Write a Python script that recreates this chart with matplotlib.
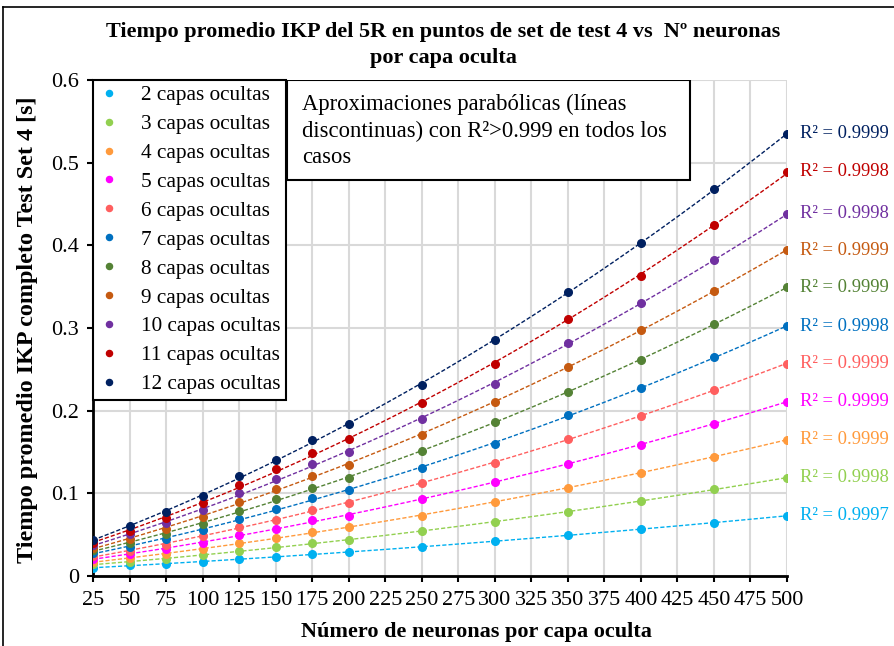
import numpy as np
import matplotlib
matplotlib.use("Agg")
import matplotlib.pyplot as plt
from matplotlib.lines import Line2D
from matplotlib.patches import Rectangle

plt.rcParams['font.family'] = ['Liberation Serif', 'DejaVu Serif']

# neuronas por capa oculta (eje x)
neuronas = [25, 50, 75, 100, 125, 150, 175, 200, 250, 300, 350, 400, 450, 500]
x_ticks = list(range(25, 525, 25))

capas = [2, 3, 4, 5, 6, 7, 8, 9, 10, 11, 12]

# tiempo promedio [s] para cada numero de capas ocultas
t_2 = [0.010, 0.013, 0.0145, 0.017, 0.020, 0.023, 0.0266, 0.0294, 0.0355, 0.042, 0.049, 0.0565, 0.0645, 0.073]
t_3 = [0.014, 0.017, 0.0206, 0.025, 0.0303, 0.0355, 0.040, 0.0432, 0.0545, 0.065, 0.078, 0.0904, 0.105, 0.119]
t_4 = [0.017, 0.0214, 0.0266, 0.0327, 0.040, 0.0464, 0.0529, 0.059, 0.0726, 0.090, 0.107, 0.1247, 0.1443, 0.165]
t_5 = [0.021, 0.0263, 0.0327, 0.0404, 0.0496, 0.0569, 0.0674, 0.073, 0.093, 0.1134, 0.136, 0.159, 0.184, 0.211]
t_6 = [0.024, 0.0306, 0.0379, 0.0484, 0.059, 0.0682, 0.080, 0.088, 0.113, 0.1368, 0.166, 0.1937, 0.225, 0.257]
t_7 = [0.028, 0.0355, 0.0448, 0.0557, 0.0686, 0.081, 0.094, 0.104, 0.1304, 0.160, 0.195, 0.227, 0.265, 0.302]
t_8 = [0.031, 0.040, 0.0513, 0.063, 0.0787, 0.0929, 0.1065, 0.118, 0.151, 0.186, 0.223, 0.2615, 0.305, 0.349]
t_9 = [0.034, 0.0452, 0.0573, 0.071, 0.090, 0.105, 0.121, 0.1344, 0.171, 0.210, 0.2534, 0.2978, 0.345, 0.394]
t_10 = [0.037, 0.0505, 0.0638, 0.080, 0.1005, 0.117, 0.135, 0.150, 0.190, 0.2325, 0.2817, 0.330, 0.3817, 0.438]
t_11 = [0.040, 0.0549, 0.070, 0.088, 0.110, 0.129, 0.149, 0.1655, 0.2094, 0.256, 0.3108, 0.3632, 0.424, 0.489]
t_12 = [0.044, 0.0602, 0.0775, 0.0965, 0.1207, 0.1404, 0.1643, 0.184, 0.2312, 0.285, 0.3435, 0.4023, 0.468, 0.535]
tiempos = [t_2, t_3, t_4, t_5, t_6, t_7, t_8, t_9, t_10, t_11, t_12]

r2 = ["0.9997", "0.9998", "0.9999", "0.9999", "0.9999", "0.9998",
      "0.9999", "0.9999", "0.9998", "0.9998", "0.9999"]

colores = ['#00B0F0', '#92D050', '#FF9A3C', '#FF00FF', '#FF5F5F', '#0070C0',
           '#548235', '#C55A11', '#7030A0', '#C00000', '#002060']

fig = plt.figure(figsize=(8.94, 6.46), dpi=100)
ax = fig.add_axes([93 / 894, 70 / 646, 694 / 894, 496 / 646])

xs = np.linspace(25, 500, 200)
for n, t, c, r in zip(capas, tiempos, colores, r2):
    # ajuste parabolico (linea discontinua)
    coef = np.polyfit(neuronas, t, 2)
    ax.plot(xs, np.polyval(coef, xs), ls=(0, (3, 1.5)), lw=1.0, color=c, zorder=2)
    ax.plot(neuronas, t, 'o', ms=5.5, color=c, label=f"{n} capas ocultas", zorder=3)
    ax.annotate(f"R² = {r}", xy=(neuronas[-1], t[-1]), xytext=(9, 0),
                textcoords='offset points', va='center', ha='left',
                fontsize=13.4, color=c, annotation_clip=False)

ax.set_xlim(25, 500)
ax.set_ylim(0, 0.6)
ax.set_xticks(x_ticks)
ax.set_yticks([0, 0.1, 0.2, 0.3, 0.4, 0.5, 0.6])
ax.set_yticklabels(["0", "0.1", "0.2", "0.3", "0.4", "0.5", "0.6"])
ax.tick_params(axis='both', direction='out', length=4, width=1.5,
               labelsize=16, color='black', pad=6)
ax.tick_params(axis='x', pad=7)
ax.grid(True, color='#D9D9D9', lw=1.5, zorder=0)
ax.set_axisbelow(True)
for s in ['top', 'right']:
    ax.spines[s].set_visible(False)
for s in ['left', 'bottom']:
    ax.spines[s].set_linewidth(2)
    ax.spines[s].set_color('black')

leg = ax.legend(loc='upper left', bbox_to_anchor=(0, 1), borderaxespad=0,
                fancybox=False, edgecolor='black', framealpha=1, fontsize=15.3,
                handletextpad=1.0, handlelength=1.0, labelspacing=0.425,
                borderpad=0.25, markerscale=0.8)
leg.get_frame().set_linewidth(1.5)

# recuadro con la nota sobre las aproximaciones
ax.add_patch(Rectangle((0.2795, 0.798), 0.5805, 0.202, transform=ax.transAxes,
                       facecolor='white', edgecolor='black', lw=1.5, zorder=5))
ax.text(0.301, 0.972, "Aproximaciones parabólicas (líneas\ndiscontinuas) con R²>0.999 en todos los\ncasos",
        transform=ax.transAxes, va='top', ha='left', fontsize=16.3,
        linespacing=1.33, zorder=6)

fig.text(443 / 894, 1 - 45 / 646,
         "Tiempo promedio IKP del 5R en puntos de set de test 4 vs  Nº neuronas\npor capa oculta",
         ha='center', va='center', fontsize=16, fontweight='bold', linespacing=1.4)
fig.text(28 / 894, 1 - 330 / 646, "Tiempo promedio IKP completo Test Set 4 [s]",
         rotation=90, ha='center', va='center', fontsize=17.4, fontweight='bold')
fig.text(476 / 894, 1 - 632 / 646, "Número de neuronas por capa oculta",
         ha='center', va='center', fontsize=16, fontweight='bold')

# marco exterior del grafico
fig.add_artist(Line2D([3 / 894, 3 / 894], [0, 1 - 7 / 646], transform=fig.transFigure,
                      color='black', lw=1.2))
fig.add_artist(Line2D([3 / 894, 1], [1 - 7 / 646, 1 - 7 / 646], transform=fig.transFigure,
                      color='black', lw=1.2))

fig.savefig("out.png", dpi=100)
